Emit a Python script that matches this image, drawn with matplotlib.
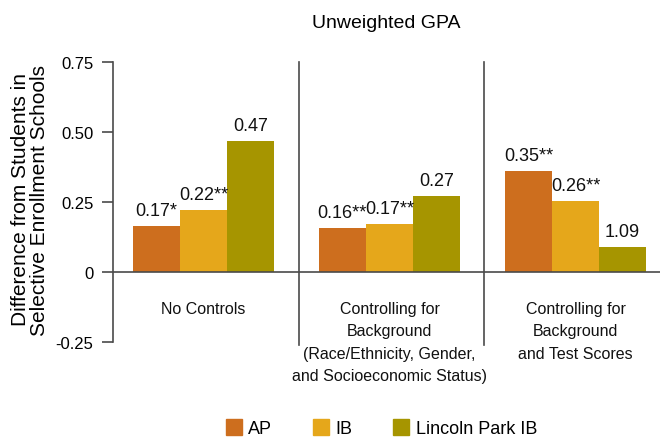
import numpy as np
import matplotlib.pyplot as plt
from matplotlib.lines import Line2D

plt.rcParams['font.family'] = ['Liberation Sans', 'DejaVu Sans']

# Data
groups = ['No Controls',
          'Controlling for\nBackground\n(Race/Ethnicity, Gender,\nand Socioeconomic Status)',
          'Controlling for\nBackground\nand Test Scores']
series = ['AP', 'IB', 'Lincoln Park IB']
ap = [0.165, 0.158, 0.36]
ib = [0.22, 0.17, 0.255]
lpib = [0.468, 0.27, 0.09]
ap_labels = ['0.17*', '0.16**', '0.35**']
ib_labels = ['0.22**', '0.17**', '0.26**']
lpib_labels = ['0.47', '0.27', '1.09']
yticks = [-0.25, 0, 0.25, 0.50, 0.75]
ytick_labels = ['-0.25', '0', '0.25', '0.50', '0.75']

colors = ['#CD6E1E', '#E5A71B', '#A69500']
line_col = '#4a4a4a'

fig = plt.figure(figsize=(6.6, 4.39), dpi=100)
ax = fig.add_axes([0.171, 0.219, 0.829, 0.6375])

x = np.arange(len(groups))
w = 0.253
for i, (vals, labs) in enumerate(zip([ap, ib, lpib], [ap_labels, ib_labels, lpib_labels])):
    pos = x + (i - 1) * w
    ax.bar(pos, vals, width=w, color=colors[i], label=series[i], zorder=2)
    for p, v, t in zip(pos, vals, labs):
        ax.text(p, v + 0.025, t, ha='center', va='bottom', fontsize=13, color='#111111')

ax.set_xlim(-0.487, 2.454)
ax.set_ylim(-0.25, 0.75)
ax.axhline(0, color=line_col, lw=1.2, zorder=3)
for sep in [0.513, 1.508]:
    ax.plot([sep, sep], [0.75, -0.262], color=line_col, lw=1.2, clip_on=False, zorder=3)

ax.set_yticks(yticks)
ax.set_yticklabels(ytick_labels, fontsize=12)
ax.tick_params(axis='y', length=8, width=1.2, color=line_col, pad=6)
ax.set_xticks([])
for s in ['top', 'right', 'bottom']:
    ax.spines[s].set_visible(False)
ax.spines['left'].set_color(line_col)
ax.spines['left'].set_linewidth(1.2)

for xi, g in zip(x, groups):
    ax.text(xi, -0.103, g, ha='center', va='top', fontsize=11.5, linespacing=1.63,
            color='#111111')

fig.text(386 / 660, 1 - 23 / 439, 'Unweighted GPA', ha='center', va='center', fontsize=14)
fig.text(30 / 660, 1 - 200 / 439, 'Difference from Students in\nSelective Enrollment Schools',
         rotation=90, ha='center', va='center', fontsize=15, linespacing=0.95)

handles = [Line2D([], [], marker='s', ls='', markersize=11.5, color=c) for c in colors]
fig.legend(handles, series, loc='center', bbox_to_anchor=(381 / 660, 1 - 430 / 439),
           ncol=3, frameon=False, fontsize=13, handletextpad=0.3, columnspacing=2.2,
           handlelength=1.0)

fig.savefig('out.png', dpi=100)
